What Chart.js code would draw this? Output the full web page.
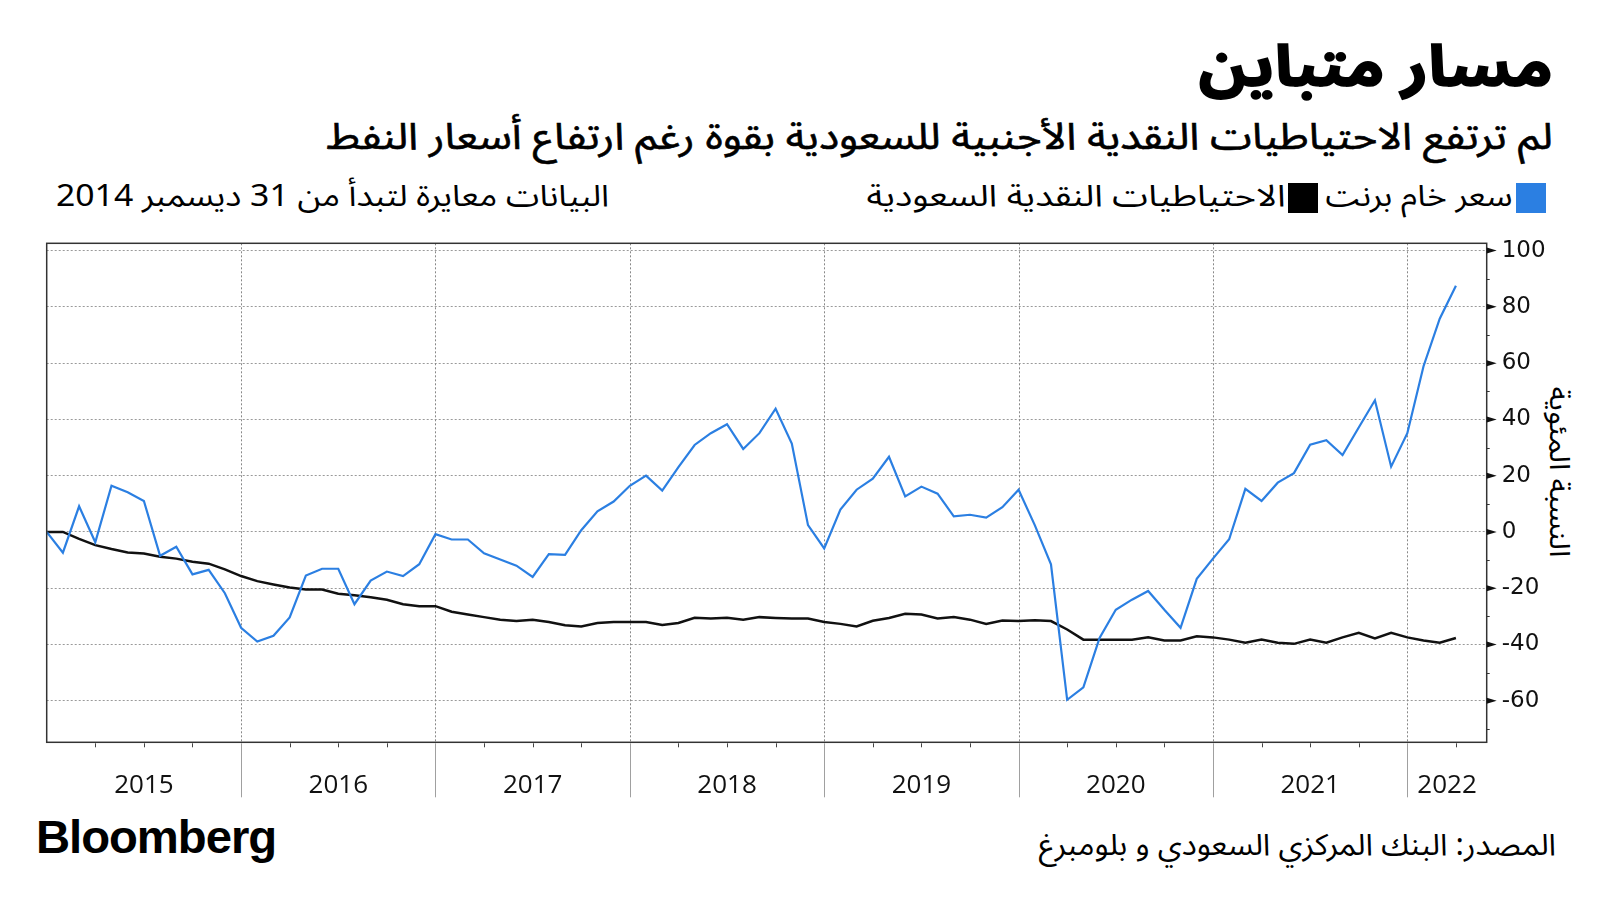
<!DOCTYPE html>
<html lang="ar">
<head>
<meta charset="utf-8">
<script src="https://cdn.jsdelivr.net/npm/chart.js@4.4.0/dist/chart.umd.min.js"></script>
<style>
  html, body { margin: 0; padding: 0; background: #fff; }
  body { width: 1600px; height: 900px; position: relative; overflow: hidden;
         font-family: "Noto Sans Arabic", "DejaVu Sans", sans-serif; color: #000; }
  .ar { position: absolute; direction: rtl; white-space: nowrap; transform-origin: right center; }
  #title { right: 47px; top: 33px; font-size: 58px; font-weight: 700; line-height: 70px; -webkit-text-stroke: 1.6px #000; }
  #subtitle { right: 47px; top: 113px; font-size: 37px; line-height: 48px; -webkit-text-stroke: 0.6px #000; }
  .sw { position: absolute; top: 183px; width: 30px; height: 30px; }
  #sw-brent { right: 54px; background: #2b7fe2; }
  #sw-res { right: 282px; background: #000; }
  .leg { top: 177px; font-size: 30px; line-height: 40px; }
  #leg-brent { right: 88px; }
  #leg-res { right: 314px; }
  #note { position: absolute; left: 56px; top: 177px; font-size: 30px; line-height: 40px;
          direction: rtl; white-space: nowrap; transform-origin: left center; }
  #ytitle { position: absolute; left: 1558px; top: 472px; font-size: 28px; line-height: 34px;
            white-space: nowrap; direction: rtl; }
  #logo { position: absolute; left: 36px; top: 810px; font-family: "Liberation Sans", Arial, sans-serif;
          font-weight: 700; font-size: 46px; line-height: 54px; letter-spacing: -1px; transform-origin: left center; }
  #source { right: 44px; top: 826px; font-size: 30px; line-height: 40px; }
  #chart { position: absolute; left: 0; top: 230px; }
</style>
</head>
<body>
<div id="title" class="ar">مسار متباين</div>
<div id="subtitle" class="ar">لم ترتفع الاحتياطيات النقدية الأجنبية للسعودية بقوة رغم ارتفاع أسعار النفط</div>
<div id="sw-brent" class="sw"></div>
<div id="leg-brent" class="ar leg">سعر خام برنت</div>
<div id="sw-res" class="sw"></div>
<div id="leg-res" class="ar leg">الاحتياطيات النقدية السعودية</div>
<div id="note">البيانات معايرة لتبدأ من 31 ديسمبر 2014</div>
<div id="ytitle">النسبة المئوية</div>
<canvas id="chart" width="1600" height="580"></canvas>
<div id="logo">Bloomberg</div>
<div id="source" class="ar">المصدر: البنك المركزي السعودي و بلومبرغ</div>

<script>
// monthly values, % change since 31 Dec 2014 (index 0 = Dec 2014, last = Mar 2022)
const brent = [
  0, -7.4, 9.1, -3.7, 16.4, 14.1, 11.0, -8.5, -5.3, -15.1, -13.5, -21.8,
  -34.1, -39.0, -36.9, -30.4, -15.5, -13.1, -13.1, -25.7, -17.3, -14.1, -15.7, -11.5,
  -0.8, -2.7, -2.7, -7.6, -9.8, -12.0, -16.0, -7.9, -8.2, 0.6, 7.3, 10.8,
  16.4, 20.0, 14.7, 23.0, 30.9, 35.1, 38.3, 29.5, 35.1, 43.8, 31.4, 2.4,
  -5.9, 7.9, 15.0, 18.9, 26.7, 12.6, 16.1, 13.6, 5.5, 6.1, 5.1, 8.8,
  15.0, 2.4, -11.5, -59.7, -55.3, -37.7, -27.7, -24.1, -21.0, -27.7, -34.1, -16.7,
  -9.5, -2.6, 15.3, 11.0, 17.5, 20.9, 31.0, 32.6, 27.3, 37.1, 46.8, 23.2,
  35.1, 58.9, 75.8, 87.5
];
const reserves = [
  0, 0, -2.5, -4.7, -6.1, -7.3, -7.7, -8.8, -9.5, -10.6, -11.3, -13.3,
  -15.7, -17.5, -18.7, -19.8, -20.5, -20.5, -22.0, -22.5, -23.2, -24.1, -25.7, -26.4,
  -26.4, -28.4, -29.4, -30.3, -31.2, -31.7, -31.2, -32.0, -33.2, -33.6, -32.4, -32.0,
  -32.0, -32.0, -33.1, -32.4, -30.5, -30.8, -30.5, -31.2, -30.3, -30.6, -30.8, -30.8,
  -32.0, -32.7, -33.6, -31.6, -30.6, -29.1, -29.4, -30.8, -30.3, -31.2, -32.7, -31.5,
  -31.7, -31.4, -31.7, -34.7, -38.3, -38.3, -38.3, -38.3, -37.5, -38.6, -38.6, -37.1,
  -37.5, -38.3, -39.4, -38.3, -39.4, -39.8, -38.3, -39.4, -37.5, -35.9, -37.9, -35.9,
  -37.5, -38.6, -39.4, -37.7
];
const yearLabels = ['2015', '2016', '2017', '2018', '2019', '2020', '2021', '2022'];
const yTicks = [-60, -40, -20, 0, 20, 40, 60, 80, 100];

const X_MAX = 88.9;
const Y_MIN = -74.8, Y_MAX = 102.6;

function yearCenter(k) {
  const start = k * 12;
  return (start + Math.min(start + 12, X_MAX)) / 2;
}

const decor = {
  id: 'decor',
  beforeDatasetsDraw(chart) {
    const { ctx, chartArea: a, scales: { x } } = chart;
    ctx.save();
    ctx.strokeStyle = '#888';
    ctx.lineWidth = 1;
    ctx.setLineDash([2, 2]);
    for (let m = 12; m < X_MAX; m += 12) {
      const px = Math.round(x.getPixelForValue(m)) + 0.5;
      ctx.beginPath(); ctx.moveTo(px, a.top); ctx.lineTo(px, a.bottom); ctx.stroke();
    }
    ctx.restore();
  },
  afterDatasetsDraw(chart) {
    const { ctx, chartArea: a, scales: { x, y } } = chart;
    ctx.save();
    // frame
    ctx.strokeStyle = '#333';
    ctx.lineWidth = 1.5;
    ctx.strokeRect(a.left, a.top, a.right - a.left, a.bottom - a.top);
    // bottom: quarter ticks + year separators
    for (let m = 3; m < X_MAX; m += 3) {
      const px = Math.round(x.getPixelForValue(m)) + 0.5;
      ctx.beginPath();
      if (m % 12 === 0) {
        ctx.strokeStyle = '#a0a0a0'; ctx.lineWidth = 1;
        ctx.moveTo(px, a.bottom + 1); ctx.lineTo(px, a.bottom + 55);
      } else {
        ctx.strokeStyle = '#444'; ctx.lineWidth = 1;
        ctx.moveTo(px, a.bottom + 1); ctx.lineTo(px, a.bottom + 5);
      }
      ctx.stroke();
    }
    // right: triangle major ticks, small minor ticks
    ctx.fillStyle = '#111';
    yTicks.forEach((v) => {
      const py = y.getPixelForValue(v);
      ctx.beginPath();
      ctx.moveTo(a.right, py - 3); ctx.lineTo(a.right + 10, py); ctx.lineTo(a.right, py + 3);
      ctx.closePath(); ctx.fill();
    });
    ctx.strokeStyle = '#333'; ctx.lineWidth = 1;
    [yTicks[0] - 10, ...yTicks.map((v) => v + 10)].forEach((v) => {
      if (v < Y_MIN || v > Y_MAX) return;
      const py = Math.round(y.getPixelForValue(v)) + 0.5;
      ctx.beginPath(); ctx.moveTo(a.right, py); ctx.lineTo(a.right + 3, py); ctx.stroke();
    });
    ctx.restore();
  }
};

const pts = (arr) => arr.map((v, i) => ({ x: i, y: v }));

new Chart(document.getElementById('chart'), {
  type: 'line',
  data: {
    datasets: [
      { label: 'سعر خام برنت', data: pts(brent), borderColor: '#2b7fe2', borderWidth: 2.2, pointRadius: 0, tension: 0 },
      { label: 'الاحتياطيات النقدية السعودية', data: pts(reserves), borderColor: '#111', borderWidth: 2.5, pointRadius: 0, tension: 0 },
    ],
  },
  options: {
    responsive: false,
    animation: false,
    devicePixelRatio: 1,
    layout: { padding: { left: 46.7, top: 13.3, right: 0, bottom: 0 } },
    plugins: { legend: { display: false }, tooltip: { enabled: false } },
    scales: {
      x: {
        type: 'linear', position: 'bottom', min: 0, max: X_MAX,
        afterBuildTicks(scale) { scale.ticks = yearLabels.map((l, k) => ({ value: yearCenter(k) })); },
        afterFit(scale) { scale.height = 67.7; scale.paddingLeft = 0; scale.paddingRight = 0; },
        grid: { display: false, drawTicks: false },
        border: { display: false },
        ticks: {
          autoSkip: false, maxRotation: 0, padding: 28, color: '#111',
          font: { family: '"Open Sans", sans-serif', size: 26 },
          callback: (v, i) => yearLabels[i],
        },
      },
      y: {
        type: 'linear', position: 'right', min: Y_MIN, max: Y_MAX,
        afterBuildTicks(scale) { scale.ticks = yTicks.map((v) => ({ value: v })); },
        afterFit(scale) { scale.width = 113.3; scale.paddingTop = 0; scale.paddingBottom = 0; },
        grid: { color: '#9a9a9a', lineWidth: 1, drawTicks: false },
        border: { display: false, dash: [2, 2] },
        ticks: {
          padding: 15, color: '#111',
          font: { family: '"DejaVu Sans", sans-serif', size: 23, lineHeight: 1.16 },
          callback: (v) => String(v),
        },
      },
    },
  },
  plugins: [decor],
});

// squeeze the Arabic text into the widths the condensed original uses
function fit(id, w) {
  const el = document.getElementById(id);
  const r = el.getBoundingClientRect().width;
  if (r > 0) el.style.transform = `scaleX(${(w / r).toFixed(3)})`;
}
fit('title', 354);
fit('subtitle', 1226);
fit('leg-brent', 187);
fit('leg-res', 419);
fit('note', 553);
fit('source', 517);
fit('logo', 240);
const yt = document.getElementById('ytitle');
const ytw = yt.getBoundingClientRect().width;
yt.style.transform = `translate(-50%, -50%) rotate(90deg) scaleX(${(171 / ytw).toFixed(3)})`;
</script>
</body>
</html>
